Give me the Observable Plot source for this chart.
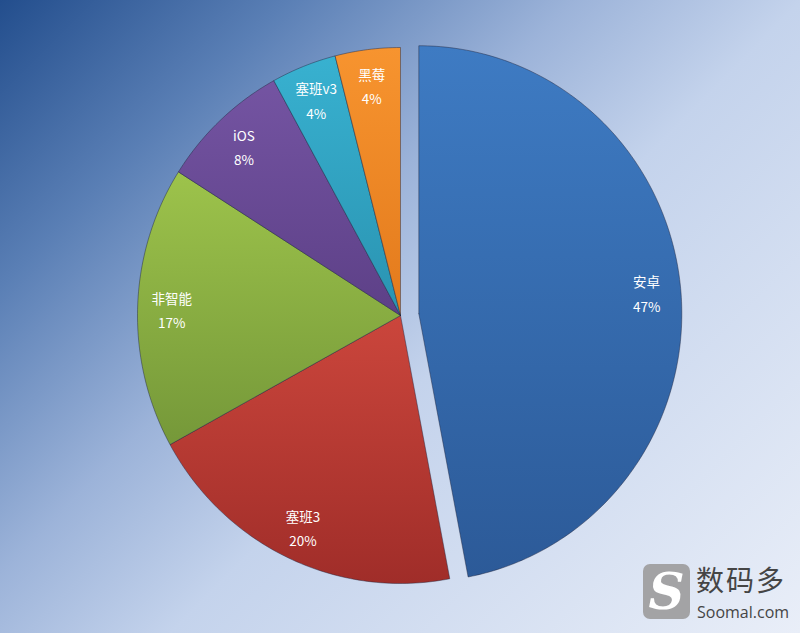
<!DOCTYPE html>
<html>
<head>
<meta charset="utf-8">
<script src="https://cdn.jsdelivr.net/npm/d3@7"></script>
<script src="https://cdn.jsdelivr.net/npm/@observablehq/plot@0.6"></script>
<style>
html, body { margin: 0; padding: 0; }
#wrap {
  position: relative; width: 800px; height: 633px; overflow: hidden;
  background: linear-gradient(135deg, #234e8d 0%, #5a7fb5 20%, #9cb3d9 40%, #c4d3ec 56%, #e9eef8 100%);
}
#chart { position: absolute; left: 0; top: 0; }
#wm { position: absolute; left: 643px; top: 562px; width: 157px; height: 60px; font-family: "Noto Sans CJK SC", "Noto Sans", sans-serif; white-space: nowrap; }
#logo { position: absolute; left: 0; top: 2px; width: 47px; height: 55px; border-radius: 7px; background: #a3a3a5; color: #fff;
  font-family: "DejaVu Serif", serif; font-style: italic; font-weight: bold; font-size: 50px; line-height: 55px; text-align: center; }
#wm1 { position: absolute; left: 53px; top: 2px; font-size: 28px; color: #454545; line-height: 30px; white-space: nowrap; letter-spacing: 2px; }
#wm2 { position: absolute; left: 54px; top: 42px; font-size: 16px; color: #454545; line-height: 17px; font-family: "Open Sans", "Noto Sans", sans-serif; white-space: nowrap; }
</style>
</head>
<body>
<div id="wrap">
  <div id="chart"></div>
  <div id="wm"><div id="logo">S</div><div id="wm1">数码多</div><div id="wm2">Soomal.com</div></div>
</div>
<script>
// ---- data ----
const categories = ["安卓", "塞班3", "非智能", "iOS", "塞班v3", "黑莓"];
const shares = [47, 20, 17, 8, 4, 4];
const percentLabels = ["47%", "20%", "17%", "8%", "4%", "4%"];
const explodedCategories = ["安卓"];
const gradientTops = ["#3e7bc3", "#cb463c", "#9dc34b", "#7454a2", "#38b1d0", "#f7942f"];
const gradientBottoms = ["#2c5a98", "#a02d29", "#759839", "#5d4087", "#2a93b1", "#e37a1c"];

// ---- layout ----
const W = 800, H = 633;
const cx = 400, cy = 315, rx = 263, ry = 268;
const explodeDist = 0.07;
const labelRadius = 0.87;

const rows = categories.map((name, i) => ({name, share: shares[i], pct: percentLabels[i], i}));
const arcs = d3.pie().sort(null).value(d => d.share)(rows);

const points = [];
const labels = [];
for (const a of arcs) {
  const mid = (a.startAngle + a.endAngle) / 2;
  const off = explodedCategories.includes(a.data.name) ? explodeDist : 0;
  const ox = off * Math.sin(mid), oy = off * Math.cos(mid);
  points.push({name: a.data.name, x: ox, y: oy});
  const n = Math.max(4, Math.ceil((a.endAngle - a.startAngle) * 60));
  for (let k = 0; k <= n; k++) {
    const t = a.startAngle + (a.endAngle - a.startAngle) * k / n;
    points.push({name: a.data.name, x: ox + Math.sin(t), y: oy + Math.cos(t)});
  }
  points.push({name: a.data.name, x: ox, y: oy});
  labels.push({name: a.data.name, pct: a.data.pct,
    x: ox + labelRadius * Math.sin(mid), y: oy + labelRadius * Math.cos(mid)});
}

const svg = Plot.plot({
  width: W, height: H, margin: 0,
  style: {background: "transparent", overflow: "visible"},
  x: {domain: [-cx / rx, (W - cx) / rx], range: [0, W], axis: null},
  y: {domain: [cy / ry, -(H - cy) / ry], range: [0, H], axis: null},
  color: {domain: categories, range: categories.map((_, i) => `url(#slice${i})`)},
  marks: [
    Plot.line(points, {x: "x", y: "y", z: "name", fill: "name", stroke: "rgba(30,35,60,0.45)", strokeWidth: 1, curve: "linear"}),
    Plot.text(labels, {x: "x", y: "y", text: d => d.name + "\n" + d.pct, fill: "white", fontSize: 13.5,
      lineHeight: 1.8, fontFamily: "'Noto Sans CJK SC', 'Noto Sans', sans-serif"})
  ]
});

const defs = d3.select(svg).insert("defs", ":first-child");
categories.forEach((_, i) => {
  const g = defs.append("linearGradient").attr("id", `slice${i}`).attr("x1", 0).attr("y1", 0).attr("x2", 0).attr("y2", 1);
  g.append("stop").attr("offset", "0%").attr("stop-color", gradientTops[i]);
  g.append("stop").attr("offset", "100%").attr("stop-color", gradientBottoms[i]);
});

document.getElementById("chart").appendChild(svg);
</script>
</body>
</html>
